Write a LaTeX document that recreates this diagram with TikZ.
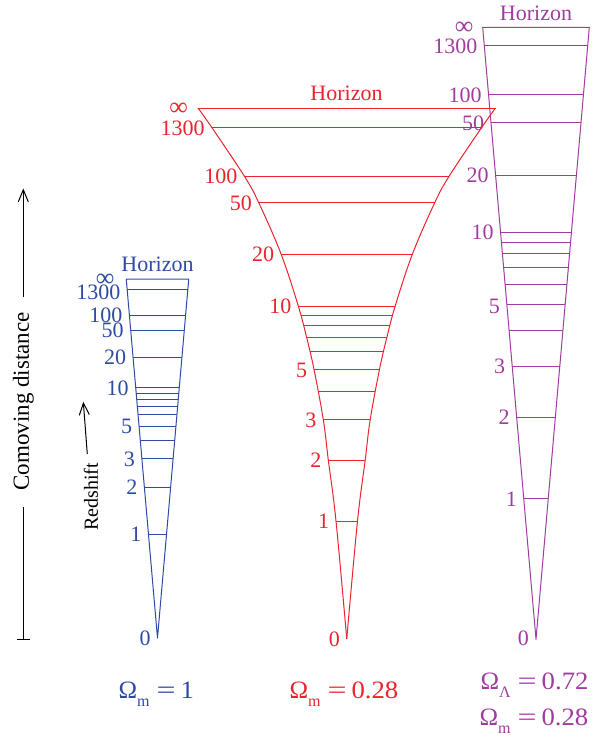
\documentclass[tikz,border=0pt]{standalone}
\usepackage{fontspec}
\usepackage{graphicx}
\setmainfont{Liberation Serif}
\usetikzlibrary{arrows.meta}
\definecolor{cblue}{RGB}{45,75,165}
\definecolor{cred}{RGB}{235,35,45}
\definecolor{cpurp}{RGB}{160,60,160}
\newcommand\omsub[1]{Ω\raisebox{-0.33em}{\fontsize{16}{16}\selectfont #1}}
\newcommand\omeq[2]{\omsub{#1}\hspace{7pt}\scalebox{1.35}[1]{=}\hspace{5pt}\scalebox{1.07}[1]{#2}}
\begin{document}
\begin{tikzpicture}[x=1pt,y=-1pt,line width=1pt,
  lbl/.style={font=\fontsize{22}{22}\selectfont,inner sep=0pt},
  inflbl/.style={font=\fontsize{26}{26}\selectfont,inner sep=0pt,anchor=east},
  omg/.style={font=\fontsize{25}{25}\selectfont,inner sep=0pt,anchor=base west},
  axtxt/.style={font=\fontsize{23}{23}\selectfont,inner sep=0pt,rotate=90},
  axarrow/.style={black,line width=1pt,-{Straight Barb[length=12pt,width=10pt]}}]
\useasboundingbox (0,0) rectangle (594,737);

% ---------------- purple cone ----------------
\begin{scope}[cpurp]
\coordinate (pA) at (536,639.3);
\coordinate (pL) at (482.7,27.3);
\coordinate (pR) at (589.3,27.3);
\draw[line join=round] (pL) -- (pA) -- (pR) -- cycle;
\foreach \yy in {45.3,94.7,122,175.7,232.3,242.3,253.7,267.7,284,304.7,330.7,366,417.7,498.7}{
  \pgfmathsetmacro\hw{0.087092*(639.3-\yy)}
  \draw ({536-\hw},\yy) -- ({536+\hw},\yy);}
\foreach \yy/\t in {46/1300,95/100,123.3/50,175.7/20,232.3/10,306/5,366/3,417.3/2,499/1,638.3/0}{
  \pgfmathsetmacro\hw{0.087092*(639.3-\yy)}
  \node[lbl,anchor=east] at ({536-\hw-6.5},\yy) {\t};}
\node[inflbl] (pinf) at (474,28.5) {∞};
\node[lbl] (phor) at (536,13.5) {Horizon};
\end{scope}

% ---------------- red cone ----------------
\begin{scope}[cred]
\foreach \s in {1,-1}{
  \begin{scope}[shift={(346.75,0)},xscale=\s]
    \draw plot[smooth,tension=0.6] coordinates {(-148.75,108) (-135.05,127.3) (-102.5,176) (-88,202.7) (-65.7,254) (-48.45,306) (-40.05,337.7) (-32.75,369.3) (-23.45,419.7) (-18.45,460) (-10.75,521) (0,639)};
  \end{scope}}
\coordinate (rL) at (198,108);
\coordinate (rR) at (495.5,108);
\draw (rL) -- (rR);
\foreach \hw/\yy in {135.05/127.3,102.5/176,88/202.7,65.7/254,48.45/306,46.05/315,43.45/325.7,40.05/337.7,36.75/351.7,32.75/369.3,28.45/391,23.45/419.7,18.45/460,10.75/521}{
  \draw ({346.75-\hw},\yy) -- ({346.75+\hw},\yy);}
\foreach \hw/\yy/\t in {135.05/128.3/1300,102.5/176.7/100,88/203.3/50,65.7/254.5/20,48.45/306.7/10,32.75/370/5,23.45/420.5/3,18.45/460.7/2,10.75/521.7/1,0/639.3/0}{
  \node[lbl,anchor=east] at ({346.75-\hw-6.5},\yy) {\t};}
\node[inflbl] (rinf) at (188.5,109.5) {∞};
\node[lbl] (rhor) at (346.5,93.5) {Horizon};
\end{scope}

% ---------------- blue cone ----------------
\begin{scope}[cblue]
\coordinate (bA) at (157.5,638);
\coordinate (bL) at (126.25,279);
\coordinate (bR) at (188.75,279);
\draw[line join=round] (bL) -- (bA) -- (bR) -- cycle;
\foreach \yy in {289,315,330,357.5,387.5,393.3,399.3,406,414.7,426,440.7,458.7,487.3,534}{
  \pgfmathsetmacro\hw{0.087047*(638-\yy)}
  \draw ({157.5-\hw},\yy) -- ({157.5+\hw},\yy);}
\foreach \yy/\t in {292/1300,315.5/100,330/50,357.5/20,388/10,426.5/5,459/3,487.5/2,534/1,638/0}{
  \pgfmathsetmacro\hw{0.087047*(638-\yy)}
  \node[lbl,anchor=east] at ({157.5-\hw-6.5},\yy) {\t};}
\node[inflbl] (binf) at (115,280.5) {∞};
\node[lbl] (bhor) at (157.5,264) {Horizon};
\end{scope}

% ---------------- axes ----------------
\coordinate (cu0) at (23.3,297);
\coordinate (cu1) at (23.3,188.5);
\coordinate (cl0) at (23.3,507);
\coordinate (cl1) at (23.3,640);
\draw[axarrow] (cu0) -- (cu1);
\draw[black,line width=1pt,-{Bar[width=13pt]}] (cl0) -- (cl1);
\node[axtxt] (comov) at (23.3,401.5) {Comoving distance};
\coordinate (rs0) at (87.3,454);
\coordinate (rs1) at (83.3,401.7);
\draw[axarrow] (rs0) -- (rs1);
\node[axtxt,font=\fontsize{20}{20}\selectfont] (redsh) at (91,496.7) {Redshift};

% ---------------- parameters ----------------
\node[omg,cblue] (omb) at (118,698.3) {\omeq{m}{1}};
\node[omg,cred] (omr) at (289,698.3) {\omeq{m}{0.28}};
\node[omg,cpurp] (ompl) at (480,689.3) {\omeq{Λ}{0.72}};
\node[omg,cpurp] (ompm) at (479,725) {\omeq{m}{0.28}};
\end{tikzpicture}
\end{document}
